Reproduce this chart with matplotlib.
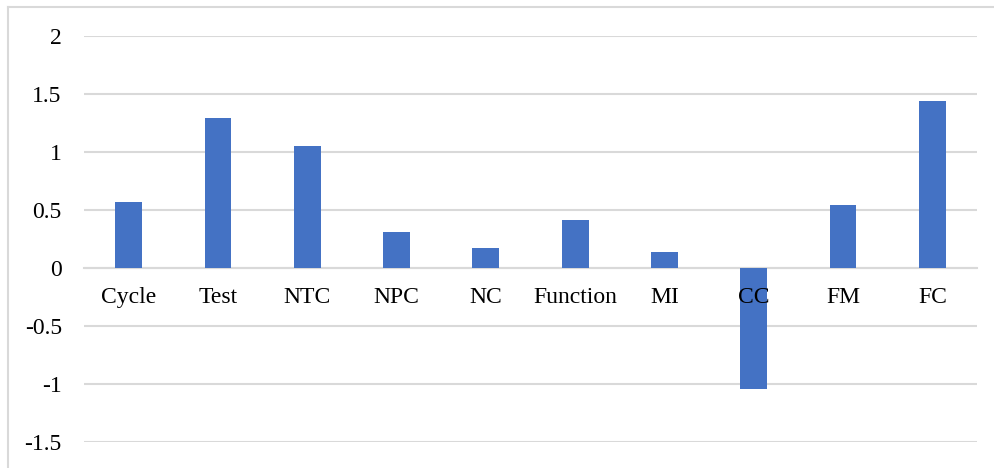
import matplotlib.pyplot as plt
from matplotlib.lines import Line2D

categories = ["Cycle", "Test", "NTC", "NPC", "NC", "Function", "MI", "CC", "FM", "FC"]
values = [0.57, 1.29, 1.05, 0.31, 0.17, 0.41, 0.14, -1.04, 0.54, 1.44]
yticks = [-1.5, -1, -0.5, 0, 0.5, 1, 1.5, 2]
ytick_labels = ["-1.5", "-1", "-0.5", "0", "0.5", "1", "1.5", "2"]

plt.rcParams['font.family'] = ['Liberation Serif', 'DejaVu Serif']

fig = plt.figure(figsize=(9.95, 4.68), dpi=100)
W, H = 995, 468
ax = fig.add_axes([84 / W, (H - 442) / H, (977 - 84) / W, (442 - 36) / H])

x = range(len(categories))
ax.bar(x, values, width=0.30, color="#4472C4", zorder=3)

ax.set_xlim(-0.5, len(categories) - 0.5)
ax.set_ylim(-1.5, 2)
ax.set_yticks(yticks)
ax.set_yticklabels(ytick_labels)
ax.yaxis.grid(True, color="#D9D9D9", linewidth=1.5, zorder=0)
ax.tick_params(axis="y", length=0, pad=16, labelsize=17)

# category labels sit just under the zero line, drawn over the bars
ax.spines["bottom"].set_position(("data", 0))
ax.spines["bottom"].set_color("#D9D9D9")
ax.spines["bottom"].set_linewidth(1.5)
ax.set_xticks(list(x))
ax.set_xticklabels(categories)
ax.tick_params(axis="x", length=0, pad=14, labelsize=17)
ax.xaxis.set_zorder(4)
for s in ["top", "right", "left"]:
    ax.spines[s].set_visible(False)

# chart frame
fig.add_artist(Line2D([8 / W, 8 / W], [0, 1 - 7 / H], color="#D9D9D9", linewidth=1.5))
fig.add_artist(Line2D([8 / W, 1], [1 - 7 / H, 1 - 7 / H], color="#D9D9D9", linewidth=1.5))

fig.savefig("out.png", dpi=100)
